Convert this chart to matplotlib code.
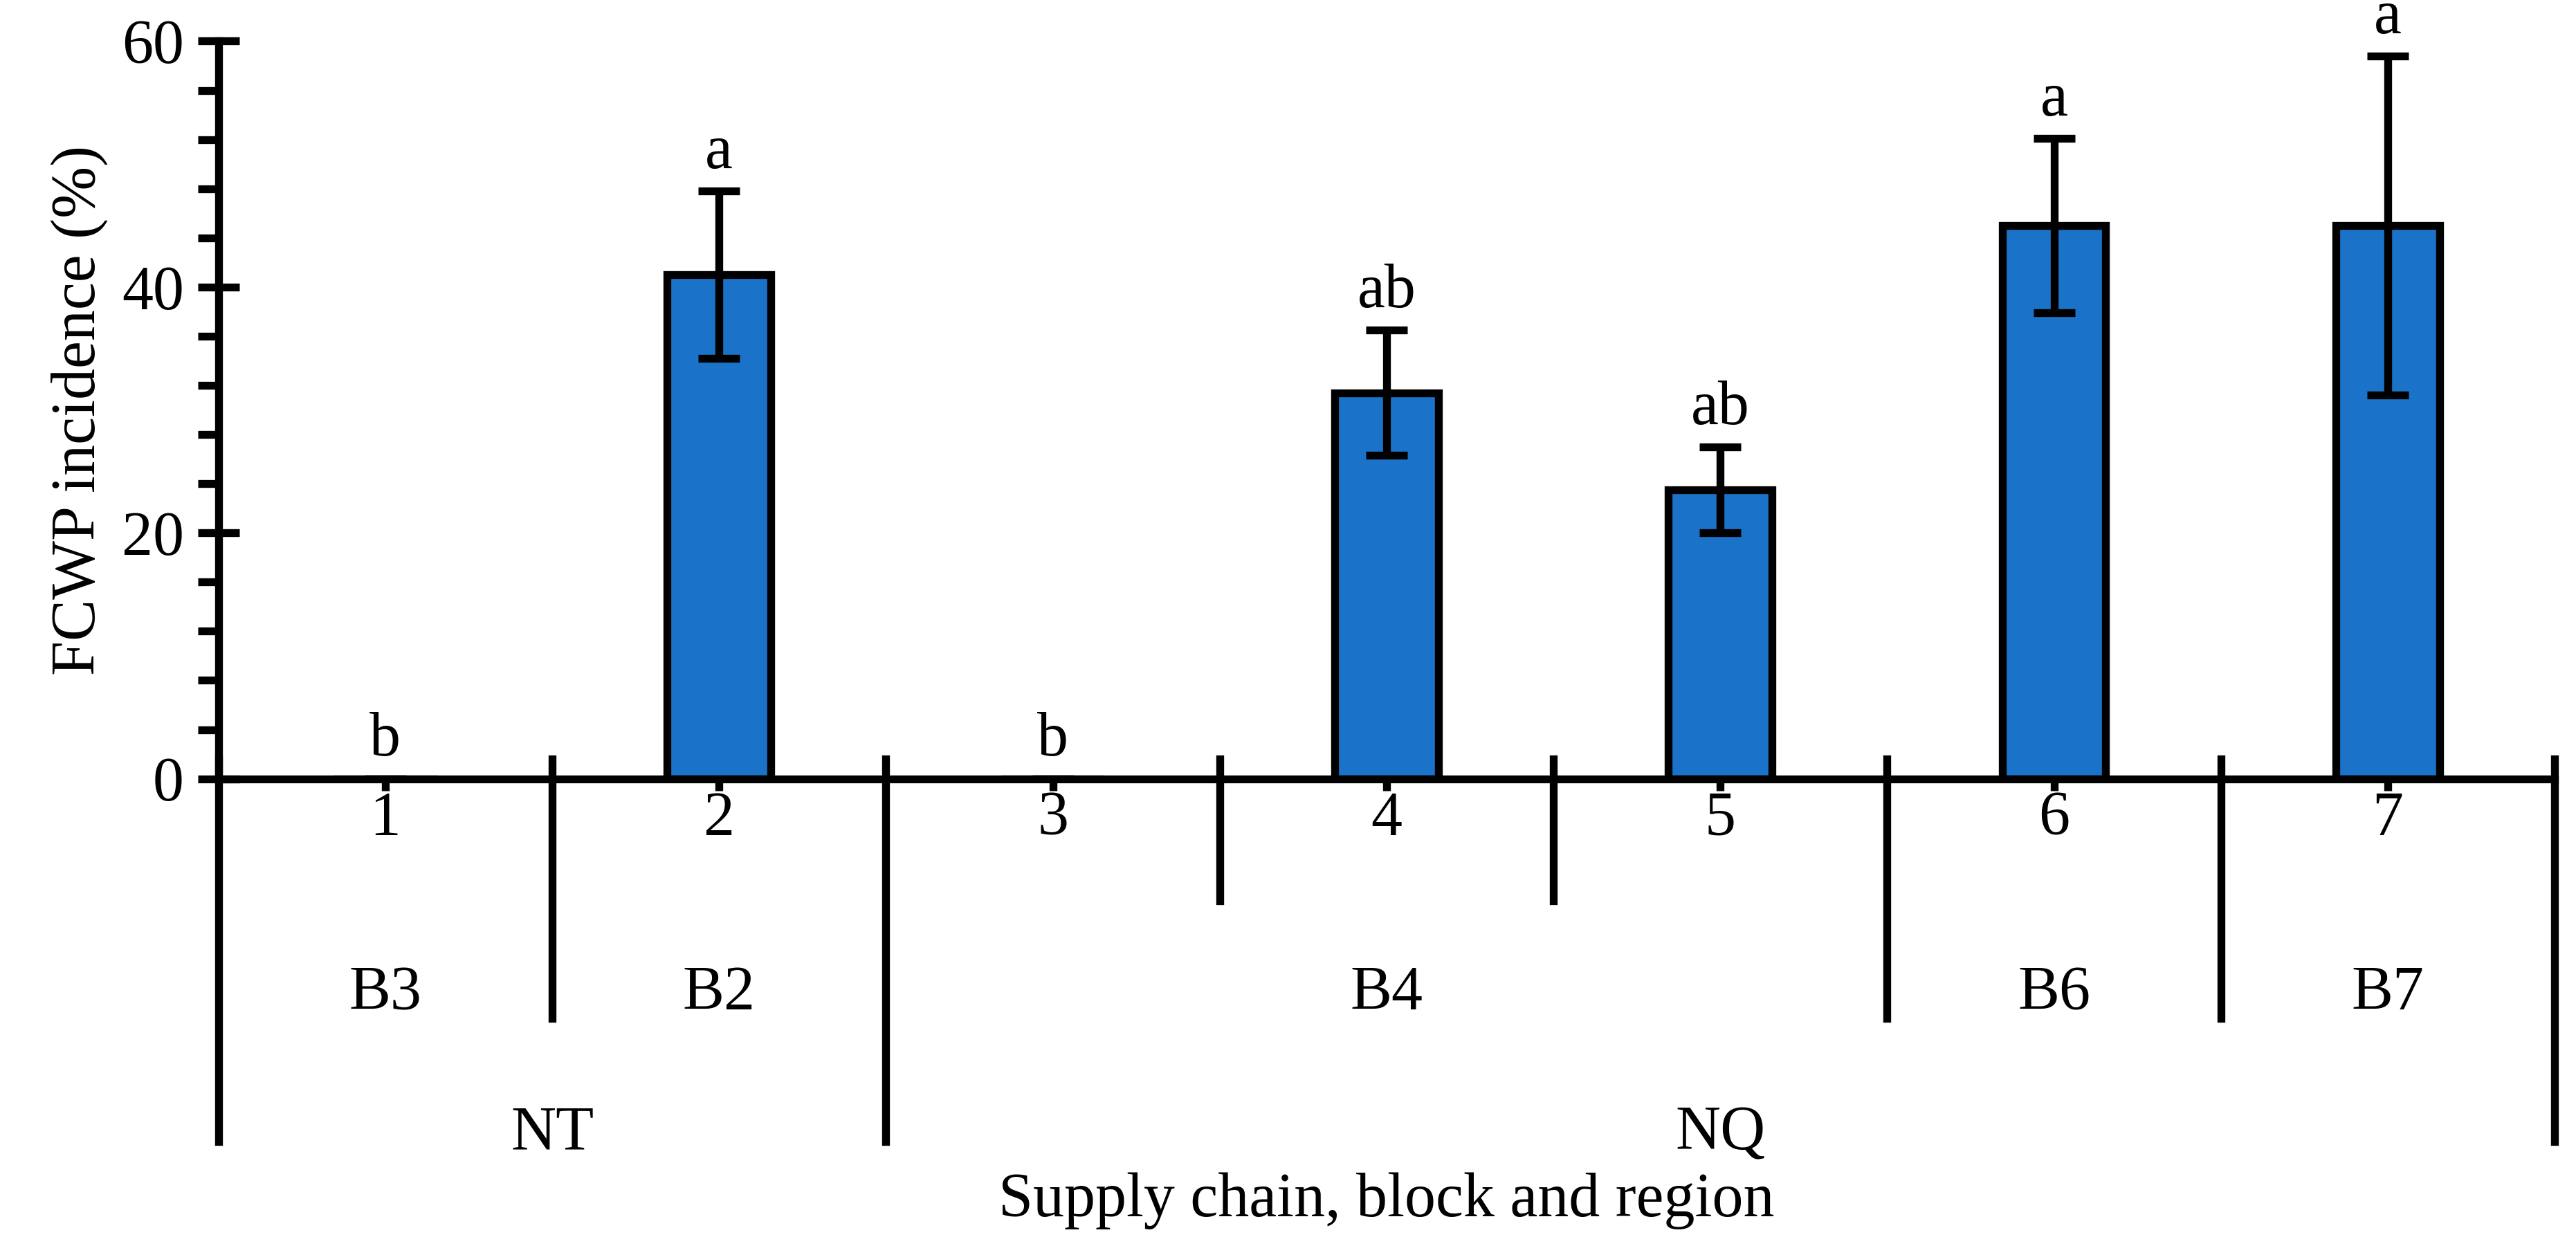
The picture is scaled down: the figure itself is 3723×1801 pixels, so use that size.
import matplotlib.pyplot as plt
from matplotlib.ticker import MultipleLocator

plt.rcParams['font.family'] = ['Liberation Serif', 'DejaVu Serif']

positions = [1, 2, 3, 4, 5, 6, 7]
incidence = [0, 41.0, 0, 31.4, 23.5, 45.0, 45.0]
errors = [0, 6.8, 0, 5.1, 3.5, 7.1, 13.8]
letters = ["b", "a", "b", "ab", "ab", "a", "a"]
blocks = ["B3", "B2", "B4", "B6", "B7"]
block_pos = [1, 2, 4, 6, 7]
regions = ["NT", "NQ"]
region_pos = [1.5, 5]

fs = 27
fig = plt.figure(figsize=(3723 / 240, 1801 / 240), dpi=240)
ax = fig.add_axes([0.0848, 0.375, 0.9069, 0.592])

lw = 3.4
ax.bar(positions, incidence, width=0.31, color="#1a73c8", edgecolor="black", linewidth=lw, zorder=2)
ax.errorbar(positions, incidence, yerr=errors, fmt="none", ecolor="black",
            elinewidth=lw, capsize=9, capthick=lw, zorder=3)
for x, h, e, t in zip(positions, incidence, errors, letters):
    ax.text(x, h + e + 0.8, t, ha="center", va="bottom", fontsize=fs, clip_on=False)

ax.set_xlim(0.5, 7.5)
ax.set_ylim(0, 60)
ax.yaxis.set_major_locator(MultipleLocator(20))
ax.yaxis.set_minor_locator(MultipleLocator(4))
ax.tick_params(axis="y", which="major", direction="inout", length=18, width=lw, labelsize=fs, pad=6)
ax.tick_params(axis="y", which="minor", direction="out", length=9, width=lw)
ax.set_xticks(positions)
ax.set_xticklabels([])
ax.tick_params(axis="x", direction="out", length=5, width=lw)
for s in ["top", "right"]:
    ax.spines[s].set_visible(False)
for s in ["left", "bottom"]:
    ax.spines[s].set_linewidth(lw)
ax.set_ylabel("FCWP incidence (%)", fontsize=fs, labelpad=6)

tr = ax.get_xaxis_transform()
# separators: (x, bottom in axes fraction)
seps = [(0.5, -0.492), (1.5, -0.325), (2.5, -0.492), (3.5, -0.165),
        (4.5, -0.165), (5.5, -0.325), (6.5, -0.325), (7.5, -0.492)]
for x, yb in seps:
    ax.plot([x, x], [0.027, yb], color="black", lw=lw, transform=tr, clip_on=False)

for x in positions:
    ax.text(x, -0.055, str(x), transform=tr, ha="center", va="center", fontsize=fs)
for x, b in zip(block_pos, blocks):
    ax.text(x, -0.292, b, transform=tr, ha="center", va="center", fontsize=fs)
for x, r in zip(region_pos, regions):
    ax.text(x, -0.482, r, transform=tr, ha="center", va="center", fontsize=fs)
ax.text(4, -0.572, "Supply chain, block and region", transform=tr, ha="center", va="center", fontsize=fs)

fig.savefig("out.png", dpi=240)
